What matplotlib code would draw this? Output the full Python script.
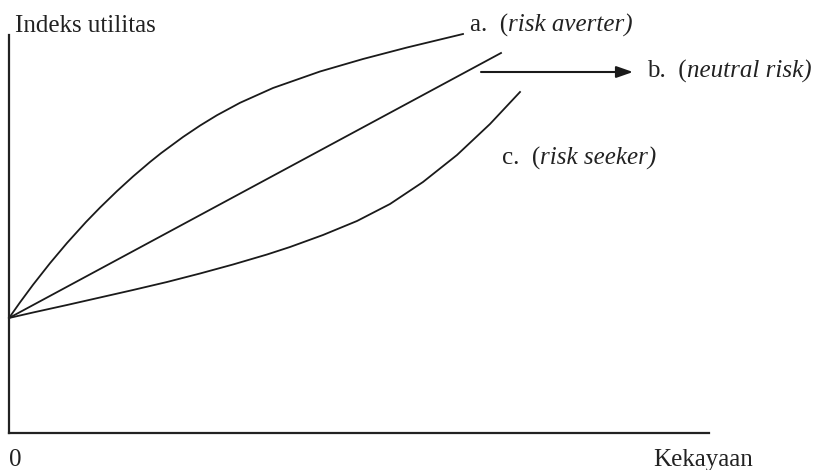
import matplotlib
matplotlib.use("Agg")
import matplotlib.pyplot as plt

# data (wealth vs utility index, arbitrary units)
wealth_a = [0, 11, 24, 41, 58, 77, 91, 108, 124, 141, 152, 174, 191, 208, 231,
            264, 311, 354, 398, 454]
util_a = [115, 130.6, 148.2, 169.8, 190, 211, 225.4, 241.9, 256.5, 271, 279.8,
          296, 307.4, 317.8, 330.2, 345, 361.5, 374, 385.5, 399]
wealth_b = [0, 492]
util_b = [115, 380]
wealth_c = [0, 24, 58, 91, 124, 158, 191, 224, 258, 281, 314, 348, 381, 414,
            448, 481, 511]
util_c = [115, 120.5, 128, 135.5, 143, 151, 159.5, 168.5, 178.5, 186, 198, 212,
          229, 251, 278, 309, 341]

plt.rcParams['font.family'] = ['Liberation Serif', 'DejaVu Serif']
FS = 18
TC = '#222222'

W, H = 818, 470
fig = plt.figure(figsize=(W/100, H/100), dpi=100)
ax = fig.add_axes([9/W, 37/H, 700/W, 398/H])
ax.set_xlim(0, 700)
ax.set_ylim(0, 398)
for s in ['top', 'right']:
    ax.spines[s].set_visible(False)
for s in ['left', 'bottom']:
    ax.spines[s].set_linewidth(1.6)
    ax.spines[s].set_color('#222222')
ax.set_xticks([])
ax.set_yticks([])

lc = '#1a1a1a'
lw = 1.3
ax.plot(wealth_a, util_a, color=lc, lw=lw, clip_on=False, solid_joinstyle='round')
ax.plot(wealth_b, util_b, color=lc, lw=lw, clip_on=False)
ax.plot(wealth_c, util_c, color=lc, lw=lw, clip_on=False, solid_joinstyle='round')

ax.annotate('', xy=(624, 361), xytext=(472, 361),
            arrowprops=dict(arrowstyle='-|>,head_length=1.0,head_width=0.35',
                            color=lc, lw=1.5, shrinkA=0, shrinkB=0),
            annotation_clip=False)

def ftext(x, y, s, **kw):
    return fig.text(x/W, 1 - y/H, s, fontsize=FS, va='baseline', ha='left', color=TC, **kw)

def label(x, y, prefix, italic):
    t1 = ftext(x, y, prefix + '(')
    ax.annotate(italic + ')', xy=(1, 0), xycoords=t1, va='bottom', ha='left',
                fontsize=FS, style='italic', color=TC)

label(470, 32, 'a.  ', 'risk averter')
label(647, 78, 'b.  ', 'neutral risk')
label(502, 165, 'c.  ', 'risk seeker')

ftext(15, 32, 'Indeks utilitas')
ftext(9, 466, '0')
ftext(653, 466, 'Kekayaan')

fig.savefig('out.png', dpi=100)
